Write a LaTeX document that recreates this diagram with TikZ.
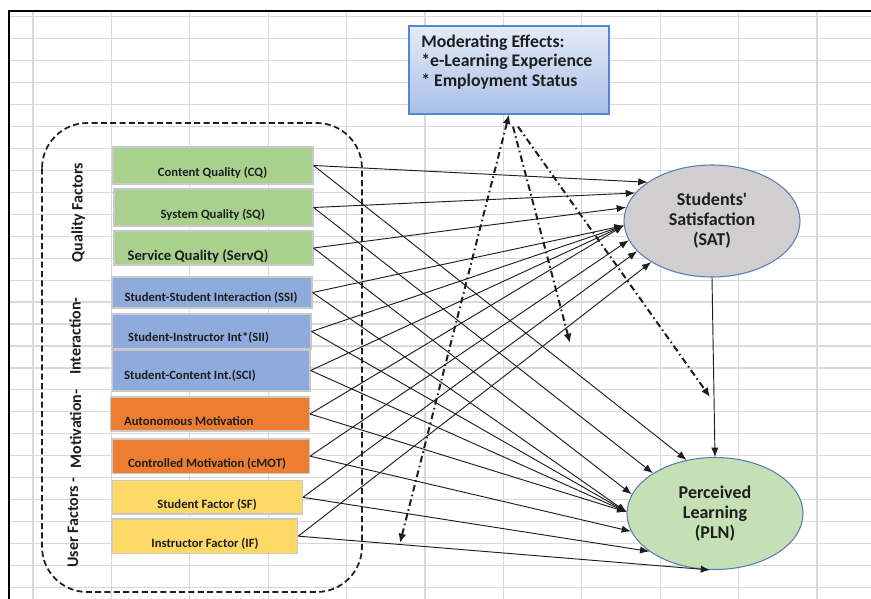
\documentclass[tikz,border=0pt]{standalone}
\usepackage{fontspec}
\setmainfont{Carlito}[Ligatures=TeXOff]
\usetikzlibrary{shapes.geometric,arrows.meta,fit,calc}

\definecolor{gridc}{HTML}{D9D9D9}
\definecolor{qgreen}{HTML}{A9D18E}
\definecolor{iblue}{HTML}{8FAADC}
\definecolor{morange}{HTML}{ED7D31}
\definecolor{uyellow}{HTML}{FFD966}
\definecolor{satgray}{HTML}{D0CECE}
\definecolor{plngreen}{HTML}{C5E0B4}
\definecolor{ellline}{HTML}{5B7DB8}
\definecolor{modtop}{HTML}{E4EBF7}
\definecolor{modbot}{HTML}{A9C0E8}
\definecolor{modline}{HTML}{5585D6}
\definecolor{boxline}{HTML}{C9C9C9}
\definecolor{ink}{HTML}{1E1E1E}

\begin{document}
\begin{tikzpicture}[x=0.75pt,y=-0.75pt,
  factor/.style={draw=boxline, line width=0.9pt, inner sep=0pt},
  ftext/.style={font=\bfseries\fontsize{9.5}{11}\selectfont, text=ink, inner sep=0pt},
  side/.style={font=\bfseries\fontsize{12}{14}\selectfont, rotate=90, inner sep=0pt, text=ink},
  outcome/.style={ellipse, draw=ellline, line width=0.8pt, minimum width=132pt,
    minimum height=84pt, inner sep=0pt, align=center,
    font=\bfseries\fontsize{13.5}{15}\selectfont, text=ink},
  link/.style={draw=ink, line width=0.7pt, -{Latex[length=7pt,width=5.5pt]}},
  modlink/.style={draw=ink, line width=1.5pt,
    dash pattern=on 5pt off 2.5pt on 1.2pt off 2.5pt, -{Latex[length=7pt,width=6pt]}}
]
\useasboundingbox (0,0) rectangle (871,599);
\fill[white] (0,0) rectangle (871,599);

% spreadsheet grid and sheet border
\foreach \k in {0,...,10}
  \draw[gridc, line width=0.9pt] ({33+78.4*\k},10.7) -- ({33+78.4*\k},599);
\foreach \k in {0,...,26}
  \draw[gridc, line width=0.9pt] (8.7,{16.7+21.95*\k}) -- (871,{16.7+21.95*\k});
\draw[black, line width=1.6pt] (8.7,599) -- (8.7,10.7) -- (871,10.7);

% dashed frame around the factor groups
\draw[ink, line width=1.3pt, dash pattern=on 4.5pt off 2.5pt, rounded corners=34pt]
  (42,123) rectangle (362,592);

% group labels
\node[side] (qlab) at (78.3,212.5) {Quality Factors};
\node[side] (ilab) at (75,336) {Interaction-};
\node[side] (mlab) at (75.5,429) {Motivation-};
\node[side] (ulab) at (73,522.5) {User Factors -};

% factor boxes
\node[factor, fill=qgreen, fit={(113,147)(313,184)}] (cq) {};
\node[factor, fill=qgreen, fit={(114,189)(313,226)}] (sq) {};
\node[factor, fill=qgreen, fit={(114,231)(313,265)}] (servq) {};
\node[factor, fill=iblue, fit={(112,277)(312,308)}] (ssi) {};
\node[factor, fill=iblue, fit={(112,314)(311,349)}] (sii) {};
\node[factor, fill=iblue, fit={(112.7,350)(310,391)}] (sci) {};
\node[factor, fill=morange, fit={(110.7,397)(309.3,431)}] (am) {};
\node[factor, fill=morange, fit={(112,439)(309.3,473.3)}] (cmot) {};
\node[factor, fill=uyellow, fit={(112.7,480.7)(302.3,514)}] (sf) {};
\node[factor, fill=uyellow, fit={(112,519)(297.7,553.3)}] (ifac) {};

\node[ftext] (cqt) at (212.5,172.7) {Content Quality (CQ)};
\node[ftext] (sqt) at (212.8,214.3) {System Quality (SQ)};
\node[ftext, font=\bfseries\fontsize{11}{13}\selectfont] (servqt) at (198,256.7) {Service Quality (ServQ)};
\node[ftext] (ssit) at (211,297.7) {Student-Student Interaction (SSI)};
\node[ftext] (siit) at (198.5,338) {Student-Instructor Int*(SII)};
\node[ftext] (scit) at (190,375.7) {Student-Content Int.(SCI)};
\node[ftext] (amt) at (188.8,421) {Autonomous Motivation};
\node[ftext] (cmott) at (207,463.3) {Controlled Motivation (cMOT)};
\node[ftext] (sft) at (207,505) {Student Factor (SF)};
\node[ftext] (ift) at (205,543.3) {Instructor Factor (IF)};

% outcomes
\node[outcome, fill=satgray] (sat) at (712,221) {Students'\\Satisfaction\\(SAT)};
\node[outcome, fill=plngreen] (pln) at (715,513.5) {Perceived\\Learning\\(PLN)};

% moderating effects box
\node[draw=modline, line width=0.9pt, top color=modtop, bottom color=modbot,
  fit={(409,26)(609,114)}, inner sep=0pt] (mod) {};
\node[font=\bfseries\fontsize{13.3}{14.6}\selectfont, align=left, anchor=west,
  inner sep=0pt, text=ink] (modt) at (421,62)
  {Moderating Effects:\\{}*e-Learning Experience\\{}* Employment Status};

% paths to satisfaction
\draw[link] (cq.east) -- (sat.149);
\draw[link] (sq.east) -- (sat.160);
\draw[link] (servq.east) -- (sat.171);
\draw[link] (ssi.east) -- (sat.183);
\draw[link] (sii.east) -- (sat.183);
\draw[link] (sci.east) -- (sat.183);
\draw[link] (am.east) -- (sat.183);
\draw[link] (cmot.east) -- (sat.193);
\draw[link] (sf.east) -- (sat.202);
\draw[link] (ifac.east) -- (sat.214);

% paths to perceived learning
\draw[link] (cq.east) -- (pln.118.5);
\draw[link] (sq.east) -- (pln.147);
\draw[link] (servq.east) -- (pln.167);
\draw[link] (ssi.east) -- (pln.179);
\draw[link] (sii.east) -- (pln.179);
\draw[link] (sci.east) -- (pln.179);
\draw[link] (am.east) -- (pln.179);
\draw[link] (cmot.east) -- (pln.192);
\draw[link] (sf.east) -- (pln.210);
\draw[link] (ifac.east) -- (pln.265);

\draw[link] (sat.south) -- (pln.north);

% moderating paths
\coordinate (m1) at (400,543);
\coordinate (m2) at (570,343);
\coordinate (m3) at (710,397);
\draw[modlink, {Latex[length=7pt,width=6pt]}-{Latex[length=7pt,width=6pt]}] (m1) -- (mod.south);
\draw[modlink] ($(mod.south)+(4,12)$) -- (m2);
\draw[modlink] ($(mod.south)+(9,12)$) -- (m3);
\end{tikzpicture}
\end{document}
